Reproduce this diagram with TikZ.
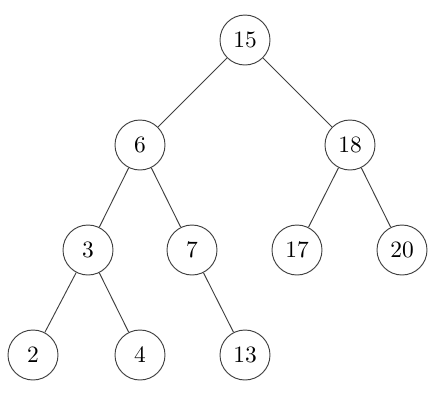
\documentclass[tikz,border=0pt]{standalone}
\begin{document}
\begin{tikzpicture}[
            x=0.015cm,
            y=-0.015cm,
            vertex/.style={circle, draw=black!75, minimum size=0.75cm, inner sep=0pt},
            edge/.style={draw=black!75}
        ]
        \useasboundingbox (0,0) rectangle (444,403);

        \node[vertex] (n15) at (245,40) {$15$};
        \node[vertex] (n6) at (140,145) {$6$};
        \node[vertex] (n18) at (350,145) {$18$};
        \node[vertex] (n3) at (88,250) {$3$};
        \node[vertex] (n7) at (192,250) {$7$};
        \node[vertex] (n17) at (297,250) {$17$};
        \node[vertex] (n20) at (402,250) {$20$};
        \node[vertex] (n2) at (33,355) {$2$};
        \node[vertex] (n4) at (140,355) {$4$};
        \node[vertex] (n13) at (245,355) {$13$};

        \draw[edge] (n15) -- (n6);
        \draw[edge] (n15) -- (n18);
        \draw[edge] (n6) -- (n3);
        \draw[edge] (n6) -- (n7);
        \draw[edge] (n18) -- (n17);
        \draw[edge] (n18) -- (n20);
        \draw[edge] (n3) -- (n2);
        \draw[edge] (n3) -- (n4);
        \draw[edge] (n7) -- (n13);
    \end{tikzpicture}
\end{document}
